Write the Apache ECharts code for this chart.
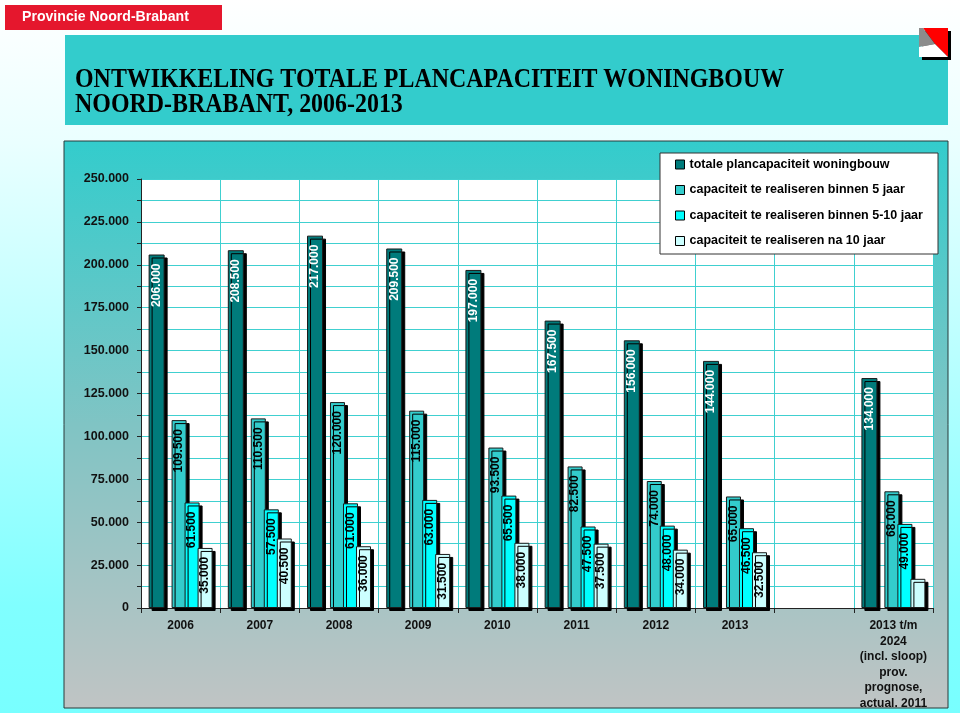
<!DOCTYPE html>
<html>
<head>
<meta charset="utf-8">
<title>Plancapaciteit woningbouw Noord-Brabant</title>
<script src="https://cdn.jsdelivr.net/npm/echarts@6/dist/echarts.min.js"></script>
<style>
html,body{margin:0;padding:0;}
body{background:linear-gradient(to bottom,#ffffff 0%,#eaffff 20%,#80ffff 85%,#78ffff 100%);}
#main{width:960px;height:713px;}
</style>
</head>
<body>
<div id="main"></div>
<script>
// categorieen (9e kolom is leeg)
var categories=['2006','2007','2008','2009','2010','2011','2012','2013','','2013 t/m\n2024\n(incl. sloop)\nprov.\nprognose,\nactual. 2011'];
var seriesNames=['totale plancapaciteit woningbouw','capaciteit te realiseren binnen 5 jaar','capaciteit te realiseren binnen 5-10 jaar','capaciteit te realiseren na 10 jaar'];
var totaal=[206000,208500,217000,209500,197000,167500,156000,144000,null,134000];
var binnen5=[109500,110500,120000,115000,93500,82500,74000,65000,null,68000];
var binnen5tot10=[61500,57500,61000,63000,65500,47500,48000,46500,null,49000];
var na10=[35000,40500,36000,31500,38000,37500,34000,32500,null,17000];
var yTicks=[0,25000,50000,75000,100000,125000,150000,175000,200000,225000,250000];
var colors=['#007b7b','#33cccc','#00ffff','#ccffff'];

// 206000 -> 206.000
function fmt(v){
	return String(v).replace(/\B(?=(\d{3})+(?!\d))/g,'.');
}

var chart=echarts.init(document.getElementById('main'),null,{renderer:'canvas'});

function barLabel(color){
	return {
		show:true,
		position:'insideTop',
		rotate:90,
		align:'right',
		verticalAlign:'middle',
		distance:9,
		color:color,
		fontSize:12,
		fontWeight:'bold',
		fontFamily:'"Liberation Sans", Arial, sans-serif',
		formatter:function(p){return fmt(p.value);}
	};
}
function barStyle(color){
	return {
		color:color,
		borderColor:'#1a1a1a',
		borderWidth:1,
		shadowColor:'#000',
		shadowBlur:0,
		shadowOffsetX:3,
		shadowOffsetY:3
	};
}

// laatste kolom "na 10 jaar" heeft geen label
var na10Data=na10.map(function(v,i){
	return i===9 ? {value:v,label:{show:false}} : v;
});

var option={
	backgroundColor:'transparent',
	animation:false,
	textStyle:{fontFamily:'"Liberation Sans", Arial, sans-serif'},
	graphic:[
		// rode balk links boven
		{type:'rect',z:-10,shape:{x:5,y:5,width:217,height:25},style:{fill:'#e5172d'}},
		{type:'text',z:-9,x:22,y:9,scaleX:0.94,style:{text:'Provincie Noord-Brabant',font:'bold 15px "Liberation Sans", Arial',fill:'#fff'}},
		// titelbalk
		{type:'rect',z:-10,shape:{x:65,y:35,width:883,height:90},style:{fill:'#33cccc'}},
		{type:'text',z:-9,x:75,y:67,scaleX:0.886,style:{text:'ONTWIKKELING TOTALE PLANCAPACITEIT WONINGBOUW',font:'bold 27px "Liberation Serif", "Times New Roman", serif',fill:'#000'}},
		{type:'text',z:-9,x:75,y:92,scaleX:0.886,style:{text:'NOORD-BRABANT, 2006-2013',font:'bold 27px "Liberation Serif", "Times New Roman", serif',fill:'#000'}},
		// logo
		{type:'rect',z:-9,shape:{x:922,y:31,width:29,height:29},style:{fill:'#000'}},
		{type:'polygon',z:-8,shape:{points:[[923,28],[948,28],[948,57],[935,44]]},style:{fill:'#ff0000'}},
		{type:'polygon',z:-8,shape:{points:[[919,28],[923,28],[935,44],[919,47]]},style:{fill:'#8c8c8c'}},
		{type:'polygon',z:-8,shape:{points:[[919,47],[935,44],[948,57],[919,57]]},style:{fill:'#ffffff'}},
		// kader grafiek
		{type:'rect',z:-10,shape:{x:64,y:141,width:884,height:567},style:{
			fill:new echarts.graphic.LinearGradient(0,0,0,1,[
				{offset:0,color:'#33cccc'},
				{offset:0.5,color:'#80c4c4'},
				{offset:1,color:'#c0c4c4'}
			]),
			stroke:'#2a3a3a',lineWidth:1}},
		// legenda kader
		{type:'rect',z:3,shape:{x:660,y:153,width:278,height:101},style:{fill:'#fff',stroke:'#333',lineWidth:1}}
	],
	legend:{
		data:seriesNames,
		orient:'vertical',
		left:670,
		top:153,
		icon:'rect',
		itemWidth:9,
		itemHeight:9,
		itemGap:12.5,
		z:5,
		textStyle:{color:'#000',fontSize:12.5,fontWeight:'bold',fontFamily:'"Liberation Sans", Arial, sans-serif'},
		itemStyle:{borderColor:'#000',borderWidth:1,shadowBlur:0,shadowOffsetX:0,shadowOffsetY:0,shadowColor:'rgba(0,0,0,0)'}
	},
	grid:{
		left:141,
		right:27,
		top:179,
		bottom:105,
		show:true,
		backgroundColor:'#ffffff',
		borderWidth:0
	},
	xAxis:[{
		type:'category',
		data:categories,
		boundaryGap:true,
		axisLine:{lineStyle:{color:'#222',width:1}},
		axisTick:{show:true,length:5,interval:0,lineStyle:{color:'#222'}},
		axisLabel:{
			interval:0,
			margin:10,
			color:'#111',
			fontSize:12,
			fontWeight:'bold',
			lineHeight:15.5
		},
		splitLine:{show:true,interval:0,lineStyle:{color:'#40d0d0',width:1}}
	},{
		type:'category',
		data:categories,
		show:false
	}],
	yAxis:{
		type:'value',
		min:0,
		max:250000,
		interval:12500,
		axisLine:{show:true,lineStyle:{color:'#222',width:1}},
		axisTick:{show:true,length:4,lineStyle:{color:'#222'}},
		axisLabel:{
			margin:12,
			color:'#111',
			fontSize:12.5,
			fontWeight:'bold',
			formatter:function(v){
				return yTicks.indexOf(v)>=0 ? fmt(v) : '';
			}
		},
		splitLine:{show:true,lineStyle:{color:'#40d0d0',width:1}}
	},
	series:[{
		name:seriesNames[0],
		type:'bar',
		xAxisIndex:0,
		barWidth:16,
		barGap:'56%',
		data:totaal,
		itemStyle:barStyle(colors[0]),
		label:barLabel('#ffffff')
	},{
		// ruimte achter totaal-balk
		name:'ruimte1',
		type:'bar',
		xAxisIndex:0,
		barWidth:39,
		data:[]
	},{
		// ruimte voor de drie andere balken
		name:'ruimte2',
		type:'bar',
		xAxisIndex:1,
		barWidth:26.5,
		barGap:'-13.3%',
		data:[]
	},{
		name:seriesNames[1],
		type:'bar',
		xAxisIndex:1,
		barWidth:15,
		data:binnen5,
		itemStyle:barStyle(colors[1]),
		label:barLabel('#000')
	},{
		name:seriesNames[2],
		type:'bar',
		xAxisIndex:1,
		barWidth:15,
		data:binnen5tot10,
		itemStyle:barStyle(colors[2]),
		label:barLabel('#000')
	},{
		name:seriesNames[3],
		type:'bar',
		xAxisIndex:1,
		barWidth:15,
		data:na10Data,
		itemStyle:barStyle(colors[3]),
		label:barLabel('#000')
	}]
};
chart.setOption(option);
</script>
</body>
</html>
